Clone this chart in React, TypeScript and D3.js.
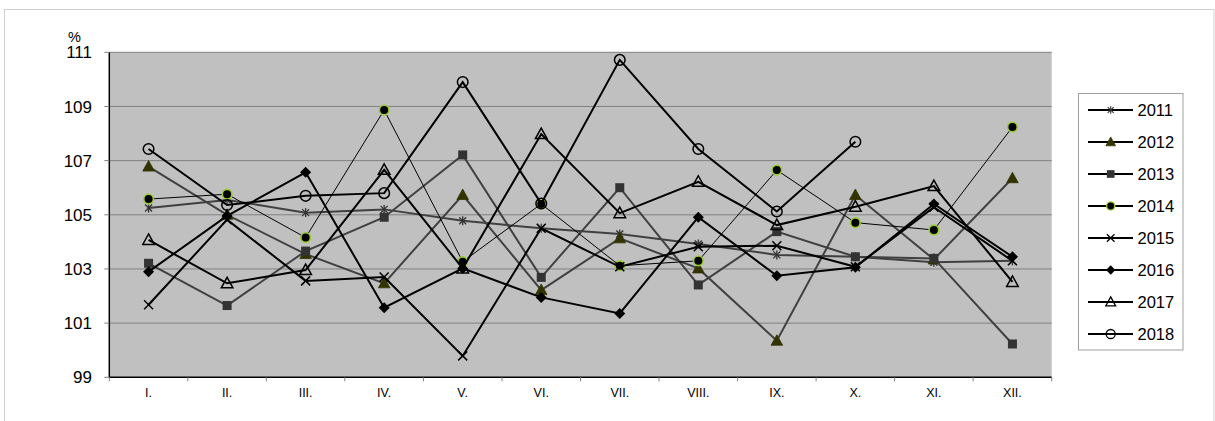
import React from "react";
import * as d3 from "d3";

const months = ["I.", "II.", "III.", "IV.", "V.", "VI.", "VII.", "VIII.", "IX.", "X.", "XI.", "XII."];
const yTicks = [99, 101, 103, 105, 107, 109, 111];

const s2011 = [105.25, 105.55, 105.08, 105.2, 104.78, 104.5, 104.29, 103.92, 103.52, 103.45, 103.25, 103.3];
const s2012 = [106.78, 105.0, 103.55, 102.47, 105.73, 102.22, 104.13, 103.02, 100.35, 105.73, 103.35, 106.35];
const s2013 = [103.21, 101.65, 103.66, 104.91, 107.21, 102.69, 106.0, 102.41, 104.38, 103.45, 103.39, 100.23];
const s2014 = [105.58, 105.76, 104.16, 108.87, 103.27, 105.4, 103.12, 103.3, 106.65, 104.71, 104.44, 108.24];
const s2015 = [101.68, 104.82, 102.56, 102.7, 99.79, 104.5, 103.08, 103.82, 103.86, 103.08, 105.28, 103.3];
const s2016 = [102.9, 104.96, 106.57, 101.57, 103.02, 101.95, 101.36, 104.91, 102.75, 103.06, 105.4, 103.45];
const s2017 = [104.07, 102.47, 102.96, 106.66, 103.02, 107.98, 105.06, 106.22, 104.62, 105.3, 106.06, 102.52];
const s2018: (number | null)[] = [107.43, 105.36, 105.7, 105.8, 109.9, 105.42, 110.72, 107.43, 105.12, 107.7, null, null];

type Marker = "star" | "tri" | "square" | "dot" | "x" | "diamond" | "otri" | "ocircle";

const seriesList: { name: string; values: (number | null)[]; color: string; width: number; marker: Marker }[] = [
  { name: "2011", values: s2011, color: "#404040", width: 2, marker: "star" },
  { name: "2012", values: s2012, color: "#404040", width: 2, marker: "tri" },
  { name: "2013", values: s2013, color: "#404040", width: 2, marker: "square" },
  { name: "2014", values: s2014, color: "#000000", width: 1, marker: "dot" },
  { name: "2015", values: s2015, color: "#000000", width: 2, marker: "x" },
  { name: "2016", values: s2016, color: "#000000", width: 2, marker: "diamond" },
  { name: "2017", values: s2017, color: "#000000", width: 2, marker: "otri" },
  { name: "2018", values: s2018, color: "#000000", width: 2, marker: "ocircle" },
];

const FONT = "'Liberation Sans', Arial, sans-serif";

function MarkerShape({ type, x, y, k = 1 }: { type: Marker; x: number; y: number; k?: number }) {
  const t = `translate(${x},${y}) scale(${k})`;
  switch (type) {
    case "star":
      return (
        <g transform={t} stroke="#333333" strokeWidth={1.3}>
          <line x1={-3.5} y1={-3.5} x2={3.5} y2={3.5} />
          <line x1={-3.5} y1={3.5} x2={3.5} y2={-3.5} />
          <line x1={0} y1={-4.5} x2={0} y2={4.5} />
        </g>
      );
    case "tri":
      return <path transform={t} d="M0,-6L5.8,4.5L-5.8,4.5Z" fill="#333300" stroke="#333300" strokeWidth={0.8} />;
    case "square":
      return <rect transform={t} x={-4.5} y={-4.5} width={9} height={9} fill="#333333" />;
    case "dot":
      return <circle transform={t} r={4.8} fill="#000000" stroke="#99cc33" strokeWidth={1.6} />;
    case "x":
      return (
        <g transform={t} stroke="#000000" strokeWidth={1.5}>
          <line x1={-4.5} y1={-4.5} x2={4.5} y2={4.5} />
          <line x1={-4.5} y1={4.5} x2={4.5} y2={-4.5} />
        </g>
      );
    case "diamond":
      return <path transform={t} d="M0,-5.5L5.5,0L0,5.5L-5.5,0Z" fill="#000000" />;
    case "otri":
      return <path transform={t} d="M0,-6L5.8,4.5L-5.8,4.5Z" fill="none" stroke="#000000" strokeWidth={1.5} />;
    case "ocircle":
      return <circle transform={t} r={5.3} fill="none" stroke="#000000" strokeWidth={1.5} />;
  }
}

export default function App() {
  const W = 1215;
  const H = 421;
  const left = 109.3;
  const right = 1051.7;
  const top = 52.3;
  const bottom = 377.3;

  const x = d3.scaleBand<string>().domain(months).range([left, right]);
  const bw = x.bandwidth();
  const cx = (m: string) => (x(m) as number) + bw / 2;
  const y = d3.scaleLinear().domain([99, 111]).range([bottom, top]);

  const lineGen = d3
    .line<number | null>()
    .defined((d) => d !== null)
    .x((_, i) => cx(months[i]))
    .y((d) => y(d as number));

  const legendX = 1078;
  const legendY = 93.5;
  const legendStep = 32;

  return (
    <svg width={W} height={H} style={{ position: "absolute", left: 0, top: 0, fontFamily: FONT }}>
      <rect x={0} y={0} width={W} height={H} fill="#ffffff" />
      <rect x={4.5} y={9.5} width={1209.5} height={430} fill="#ffffff" stroke="#d0d0d0" strokeWidth={1} />
      {/* plot area */}
      <rect x={left} y={top} width={right - left} height={bottom - top} fill="#c0c0c0" />
      {yTicks.map((t) =>
        t === 99 ? null : (
          <line key={t} x1={left} x2={right} y1={y(t)} y2={y(t)} stroke="#808080" strokeWidth={1} />
        )
      )}
      {/* y axis */}
      <line x1={left} x2={left} y1={top} y2={bottom} stroke="#000000" strokeWidth={1.5} />
      {yTicks.map((t) => (
        <g key={"yt" + t}>
          <line x1={left - 5} x2={left} y1={y(t)} y2={y(t)} stroke="#808080" strokeWidth={1} />
          <text x={92} y={y(t)} dy="0.36em" textAnchor="end" fontSize={17} fill="#000000">
            {t}
          </text>
        </g>
      ))}
      <text x={68} y={42} fontSize={14.5} fill="#000000">
        %
      </text>
      {/* x axis */}
      <line x1={left} x2={right} y1={bottom} y2={bottom} stroke="#000000" strokeWidth={1.5} />
      {months.map((m, i) => (
        <line key={"xt" + m} x1={x(m) as number} x2={x(m) as number} y1={bottom} y2={bottom + 4} stroke="#808080" strokeWidth={1} />
      ))}
      <line x1={right} x2={right} y1={bottom} y2={bottom + 4} stroke="#808080" strokeWidth={1} />
      {months.map((m) => (
        <text key={"xl" + m} x={cx(m)} y={397} textAnchor="middle" fontSize={12.5} fill="#000000">
          {m}
        </text>
      ))}
      {/* series */}
      {seriesList.map((s) => (
        <g key={s.name}>
          <path d={lineGen(s.values) || ""} fill="none" stroke={s.color} strokeWidth={s.width} strokeLinejoin="miter" />
          {s.values.map((v, i) =>
            v === null ? null : <MarkerShape key={i} type={s.marker} x={cx(months[i])} y={y(v)} />
          )}
        </g>
      ))}
      {/* legend */}
      <rect x={legendX + 0.5} y={legendY} width={104.5} height={256.5} fill="#ffffff" stroke="#a0a0a0" strokeWidth={1} />
      {seriesList.map((s, i) => {
        const ly = 110 + i * legendStep;
        return (
          <g key={"lg" + s.name}>
            <line x1={1088} x2={1133} y1={ly} y2={ly} stroke="#000000" strokeWidth={2} />
            <MarkerShape type={s.marker} x={1110.7} y={ly} k={0.85} />
            <text x={1137.5} y={ly} dy="0.36em" fontSize={16.5} fill="#000000">
              {s.name}
            </text>
          </g>
        );
      })}
    </svg>
  );
}
